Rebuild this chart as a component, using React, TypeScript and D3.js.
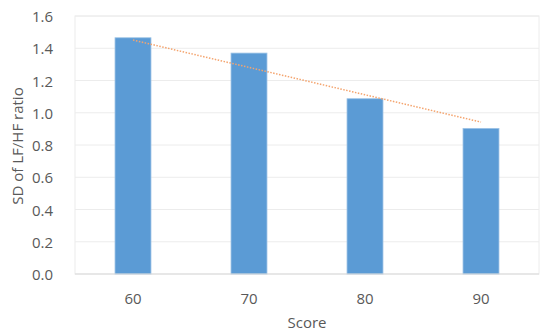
import React from "react";
import * as d3 from "d3";

const categories = ["60", "70", "80", "90"];
const values = [1.465, 1.37, 1.087, 0.903];
const yTicks = [0, 0.2, 0.4, 0.6, 0.8, 1.0, 1.2, 1.4, 1.6];
const trendCategories = ["60", "90"];
const trendValues = [1.451, 0.942];

const W = 550;
const H = 334;
const left = 75;
const right = 539;
const top = 16;
const bottom = 274;
const font = "'Open Sans', sans-serif";
const fs = 15;

export default function App() {
  const x = d3
    .scaleBand<string>()
    .domain(categories)
    .range([left, right])
    .paddingInner(0.69)
    .paddingOuter(0.345);
  const y = d3.scaleLinear().domain([0, 1.6]).range([bottom, top]);
  const cx = (c: string) => (x(c) as number) + x.bandwidth() / 2;
  const trendLine = d3
    .line<number>()
    .x((_, i) => cx(trendCategories[i]))
    .y((d) => y(d));

  return (
    <svg
      width={W}
      height={H}
      style={{ position: "absolute", left: 0, top: 0, display: "block", background: "#fff" }}
    >
      <rect x={left} y={top} width={right - left} height={bottom - top} fill="none" stroke="#ececec" strokeWidth={1} />
      {yTicks.map((t) => (
        <g key={t}>
          {t > 0 && (
            <line x1={left} x2={right} y1={y(t)} y2={y(t)} stroke="#ececec" strokeWidth={1} />
          )}
          <text
            x={53}
            y={y(t)}
            textAnchor="end"
            dominantBaseline="central"
            fontFamily={font}
            fontSize={fs}
            fill="#595959"
          >
            {t.toFixed(1)}
          </text>
        </g>
      ))}
      {categories.map((c, i) => (
        <rect
          key={c}
          x={x(c)}
          y={y(values[i])}
          width={x.bandwidth()}
          height={y(0) - y(values[i])}
          fill="#5B9BD5"
          stroke="#9dc3e6"
          strokeWidth={0.8}
        />
      ))}
      <line x1={left} x2={right} y1={bottom} y2={bottom} stroke="#d9d9d9" strokeWidth={1} />
      <path
        d={trendLine(trendValues) || ""}
        fill="none"
        stroke="#F4A46E"
        strokeWidth={1.5}
        strokeDasharray="1.5 1.5"
      />
      {categories.map((c) => (
        <text
          key={c}
          x={cx(c)}
          y={298}
          textAnchor="middle"
          dominantBaseline="central"
          fontFamily={font}
          fontSize={fs}
          fill="#595959"
        >
          {c}
        </text>
      ))}
      <text
        x={307}
        y={322}
        textAnchor="middle"
        dominantBaseline="central"
        fontFamily={font}
        fontSize={fs}
        fill="#595959"
      >
        Score
      </text>
      <text
        transform={`translate(17,146) rotate(-90)`}
        textAnchor="middle"
        dominantBaseline="central"
        fontFamily={font}
        fontSize={fs}
        fill="#595959"
      >
        SD of LF/HF ratio
      </text>
    </svg>
  );
}
